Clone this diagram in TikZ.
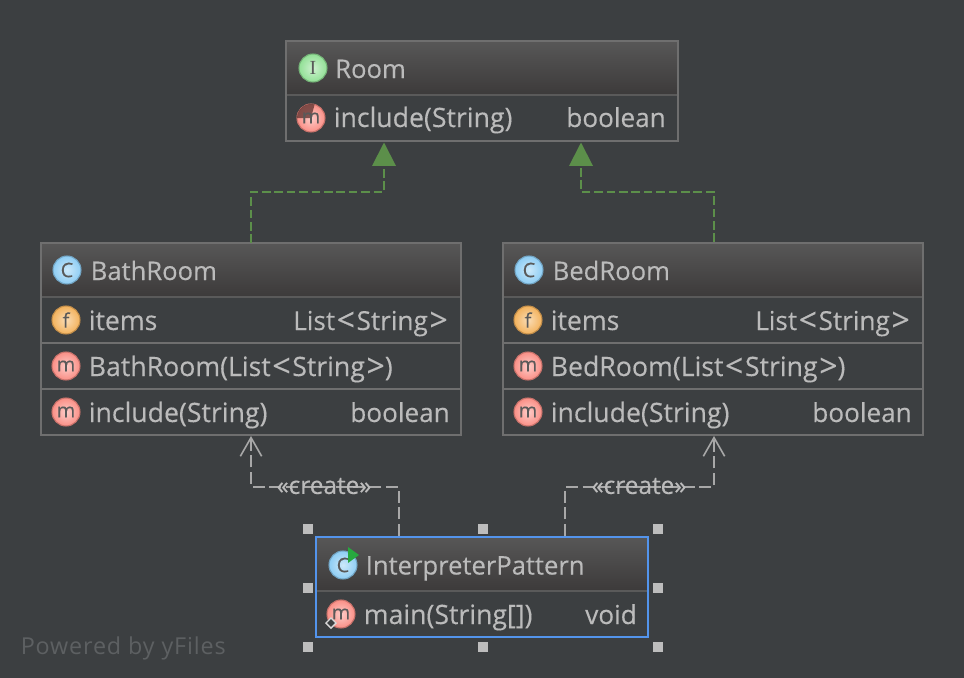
\documentclass[tikz,border=0pt]{standalone}
\usepackage{fontspec}
\setmainfont{Open Sans}[FakeBold=0.25]
\newfontfamily\serifletter{Liberation Serif}
\newfontfamily\plainfont{Open Sans}
\usetikzlibrary{positioning,arrows.meta,shapes.geometric}
\definecolor{canvas}{HTML}{3C3F41}
\definecolor{frameline}{HTML}{6F6F6F}
\definecolor{headline}{HTML}{5A5A5A}
\definecolor{headtop}{HTML}{575757}
\definecolor{headbottom}{HTML}{3C3A3A}
\definecolor{selectline}{HTML}{5394EC}
\definecolor{labeltext}{HTML}{BBBBBB}
\definecolor{realizeline}{HTML}{5C8F4A}
\definecolor{handlefill}{HTML}{BDBDBD}
\definecolor{logotext}{HTML}{5D6062}
\definecolor{runmark}{HTML}{27A83F}
\definecolor{iconred}{HTML}{FA8F86}
\definecolor{iconblue}{HTML}{8ECDF4}
\definecolor{icongreen}{HTML}{92E096}
\definecolor{iconorange}{HTML}{F3B25C}
\newcommand{\bigangle}[1]{\raisebox{-0.8pt}{\fontsize{24}{24}\selectfont#1}}
\newcommand{\strlist}{List\kern1.2pt\bigangle{<}\kern1.2pt String\kern1.2pt\bigangle{>}}
\tikzset{
    classhead/.style={draw=frameline, line width=1.5pt, outer sep=0pt, inner sep=0pt, minimum width=#1*0.75pt, minimum height=40.5pt, top color=headtop, bottom color=headbottom},
    classrow/.style={draw=frameline, line width=1.5pt, outer sep=0pt, inner sep=0pt, minimum width=#1*0.75pt, minimum height=34.5pt, fill=canvas},
    selected/.style={draw=selectline},
    headrule/.style={draw=headline, line width=1.5pt, shorten <=1pt, shorten >=1pt},
    title/.style={anchor=base west, text=labeltext, inner sep=0pt, font=\fontsize{19.2}{24}\selectfont},
    member/.style={anchor=base west, text=labeltext, inner sep=0pt, font=\fontsize{20}{24}\selectfont},
    kind/.style={anchor=base east, text=labeltext, inner sep=0pt, font=\fontsize{19.6}{24}\selectfont},
    icon/.style={circle, inner sep=0pt, minimum size=21pt, line width=0.8pt, text=black!65, font=\fontsize{15}{15}\selectfont},
    classicon/.style={icon, draw=#1!80!black, inner color=#1!45!white, outer color=#1},
    realize/.style={draw=realizeline, line width=1.5pt, dash pattern=on 6.5pt off 2.8pt, -{Triangle[width=17.5pt, length=17.5pt, fill=realizeline]}},
    creates/.style={draw=labeltext!90!black, line width=1.5pt, dash pattern=on 9pt off 3.5pt, -{Straight Barb[width=16pt, length=14pt, line width=1.2pt]}},
    stereotype/.style={text=labeltext, inner sep=0pt, font=\fontsize{18.3}{20}\selectfont},
    handle/.style={fill=handlefill, inner sep=0pt, minimum size=7.5pt},
}
\begin{document}
\begin{tikzpicture}[x=0.75pt, y=-0.75pt]
    \useasboundingbox[fill=canvas] (0,0) rectangle (964,678);

    \node[classhead=392] (room) at (482,68) {};
    \node[classrow=392, below=0pt of room] (roominclude) {};
    \draw[headrule] (room.south west) -- (room.south east);
    \node[classicon=icongreen] (roomicon) at (313,68) {\serifletter I};
    \node[title] (roomname) at (335,78) {Room};
    \node[classicon=iconred] (roomincludeicon) at (311,118) {};
    \fill[black!60!iconred, fill opacity=0.8] (roomincludeicon.center) -- (297,118) arc (180:285:14) -- cycle;
    \node[text=black!65, font=\fontsize{15}{15}\selectfont, inner sep=0pt] (roomincludeletter) at (311,118) {m};
    \node[member] (roomincludename) at (333.5,127) {include(String)};
    \node[kind] (roomincludetype) at (666,127) {boolean};

    \node[classhead=420] (bath) at (251,270) {};
    \node[classrow=420, below=0pt of bath] (bathitems) {};
    \node[classrow=420, below=0pt of bathitems] (bathctor) {};
    \node[classrow=420, below=0pt of bathctor] (bathinclude) {};
    \draw[headrule] (bath.south west) -- (bath.south east);
    \node[classicon=iconblue] (bathicon) at (67,270) {C};
    \node[title] (bathname) at (90.5,280) {BathRoom};
    \node[classicon=iconorange] (bathitemsicon) at (66,320) {f};
    \node[member] (bathitemsname) at (88.5,330) {items};
    \node[kind] (bathitemstype) at (448,330) {\strlist};
    \node[classicon=iconred] (bathctoricon) at (66,366) {m};
    \node[member] (bathctorname) at (88.5,376) {BathRoom(\strlist)};
    \node[classicon=iconred] (bathincludeicon) at (66,412) {m};
    \node[member] (bathincludename) at (88.5,422) {include(String)};
    \node[kind] (bathincludetype) at (450,422) {boolean};

    \node[classhead=420] (bed) at (713,270) {};
    \node[classrow=420, below=0pt of bed] (beditems) {};
    \node[classrow=420, below=0pt of beditems] (bedctor) {};
    \node[classrow=420, below=0pt of bedctor] (bedinclude) {};
    \draw[headrule] (bed.south west) -- (bed.south east);
    \node[classicon=iconblue] (bedicon) at (529,270) {C};
    \node[title] (bedname) at (552.5,280) {BedRoom};
    \node[classicon=iconorange] (beditemsicon) at (528,320) {f};
    \node[member] (beditemsname) at (550.5,330) {items};
    \node[kind] (beditemstype) at (910,330) {\strlist};
    \node[classicon=iconred] (bedctoricon) at (528,366) {m};
    \node[member] (bedctorname) at (550.5,376) {BedRoom(\strlist)};
    \node[classicon=iconred] (bedincludeicon) at (528,412) {m};
    \node[member] (bedincludename) at (550.5,422) {include(String)};
    \node[kind] (bedincludetype) at (912,422) {boolean};

    \node[classhead=332, selected] (pattern) at (482,564) {};
    \node[classrow=332, selected, below=0pt of pattern] (patternmain) {};
    \draw[headrule] (pattern.south west) -- (pattern.south east);
    \node[classicon=iconblue] (patternicon) at (343,565) {C};
    \fill[runmark] (348,547) -- (359,555) -- (348,563) -- cycle;
    \node[title] (patternname) at (365.5,574.5) {InterpreterPattern};
    \node[classicon=iconred] (patternmainicon) at (341,614) {m};
    \node[diamond, draw=white!85!black, fill=canvas, line width=1pt, inner sep=0pt, minimum size=8pt] (patternmainmark) at (331,623) {};
    \node[member] (patternmainname) at (363.5,624) {main(String[])};
    \node[kind] (patternmaintype) at (637,624) {void};

    \coordinate (roomleft) at (384,142.5);
    \coordinate (roomright) at (581,142.5);
    \coordinate (leftbend) at (384,192);
    \coordinate (rightbend) at (581,192);
    \coordinate (bedtop) at (714,242);
    \draw[realize] (bath.north) |- (leftbend) -- (roomleft);
    \draw[realize] (bedtop) |- (rightbend) -- (roomright);

    \coordinate (patternleft) at (399,536);
    \coordinate (patternright) at (565,536);
    \coordinate (bathbottom) at (251,436);
    \coordinate (bedbottom) at (714,436);
    \coordinate (bathbend) at (251,487);
    \coordinate (bedbend) at (714,487);
    \draw[creates] (patternleft) |- (bathbend) -- (bathbottom);
    \draw[creates] (patternright) |- (bedbend) -- (bedbottom);
    \node[stereotype] (bathcreate) at (324,486) {«create»};
    \node[stereotype] (bedcreate) at (639,486) {«create»};

    \node[handle] (handlea) at (308,529) {};
    \node[handle] (handleb) at (483,529) {};
    \node[handle] (handlec) at (658,529) {};
    \node[handle] (handled) at (308,588) {};
    \node[handle] (handlee) at (658,588) {};
    \node[handle] (handlef) at (308,647) {};
    \node[handle] (handleg) at (483,647) {};
    \node[handle] (handleh) at (658,647) {};

    \node[anchor=base west, text=logotext, inner sep=0pt, font=\plainfont\fontsize{17.5}{20}\selectfont\addfontfeatures{LetterSpace=3.7}] (logo) at (20.5,654) {Powered by yFiles};
\end{tikzpicture}
\end{document}
